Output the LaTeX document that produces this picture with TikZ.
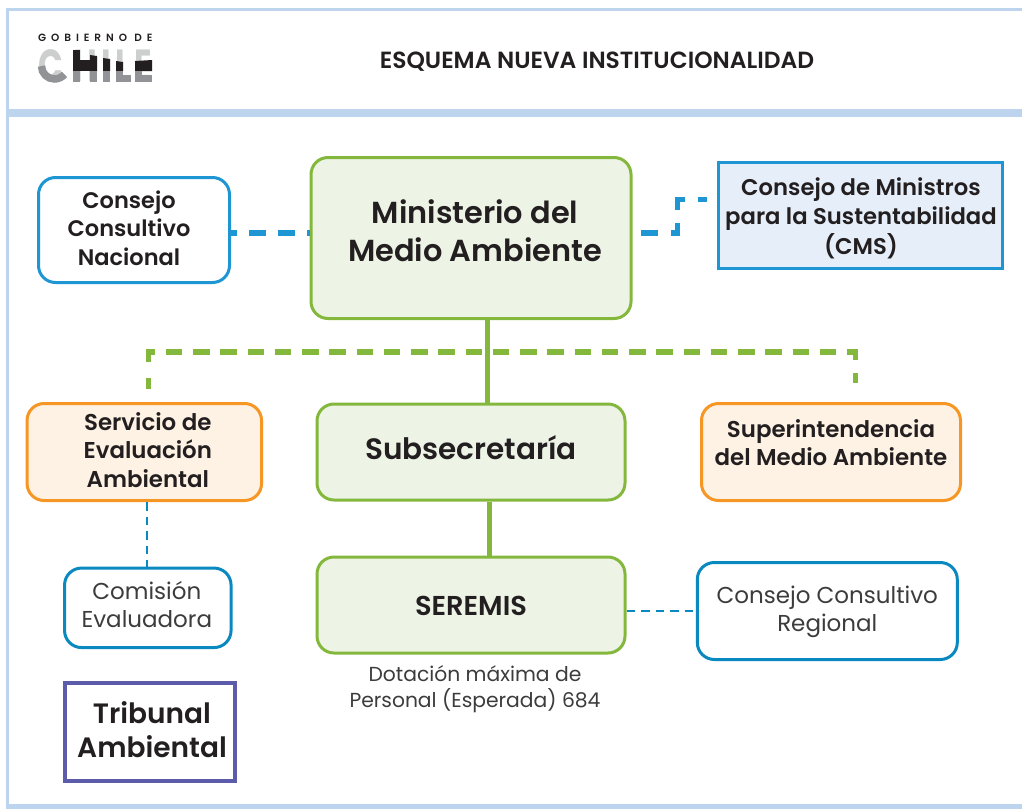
\documentclass[tikz,border=0pt]{standalone}
\usepackage{fontspec}
\setmainfont{Poppins}
\newfontfamily\sbfont{Poppins SemiBold}
\definecolor{framec}{RGB}{189,212,238}
\definecolor{greenb}{RGB}{132,184,60}
\definecolor{greenf}{RGB}{237,244,230}
\definecolor{blueb}{RGB}{10,136,192}
\definecolor{dashb}{RGB}{30,150,212}
\definecolor{bluef}{RGB}{230,239,249}
\definecolor{orangeb}{RGB}{246,150,36}
\definecolor{orangef}{RGB}{254,242,228}
\definecolor{purpleb}{RGB}{92,92,170}
\definecolor{inkc}{RGB}{35,31,32}
\definecolor{greyc}{RGB}{60,60,60}
\definecolor{logol}{RGB}{205,207,207}
\definecolor{logom}{RGB}{145,147,150}
% text block moved up by #1 without changing the size of the node
\newcommand{\mvtext}[2]{\raisebox{#1}[\height][\depth]{\begin{tabular}{@{}c@{}}#2\end{tabular}}}
\tikzset{
 x=1pt,y=-1pt,
 boxbase/.style={draw,inner sep=0pt,text=inkc,line width=3pt,anchor=center},
 greenbox/.style={boxbase,draw=greenb,fill=greenf,rounded corners=17pt},
 bluebox/.style={boxbase,draw=blueb,fill=white,rounded corners=17pt},
 orangebox/.style={boxbase,draw=orangeb,fill=orangef,rounded corners=17pt},
 thickdash/.style={draw=dashb,line width=5.5pt,dash pattern=on 17pt off 13pt},
 thindash/.style={draw=blueb,line width=2.4pt,dash pattern=on 8.5pt off 6pt},
 greendash/.style={draw=greenb,line width=5.2pt,dash pattern=on 16.7pt off 10.55pt},
 greenstub/.style={draw=greenb,line width=5.2pt},
 greenline/.style={draw=greenb,line width=5pt},
 sb/.style 2 args={font=\fontsize{#1}{#2}\selectfont\sbfont},
 rg/.style 2 args={font=\fontsize{#1}{#2}\selectfont},
}
\begin{document}
\begin{tikzpicture}
\useasboundingbox (0,0) rectangle (1022,809);
\fill[white] (0,0) rectangle (1022,809);
% frame
\fill[framec] (6,8) rectangle (1022,11);
\fill[framec] (6,8) rectangle (9,809);
\fill[framec] (6,109) rectangle (1022,117);
\fill[framec] (6,804) rectangle (1022,809);
% logo
\node[font=\fontsize{10.5}{12}\selectfont\sbfont\addfontfeature{LetterSpace=47},text=inkc,anchor=west,inner sep=0pt] (gob) at (38,38) {GOBIERNO DE};
\node[font=\fontsize{45}{45}\selectfont\bfseries,text=logol,anchor=west,inner sep=0pt,xscale=.72,transform shape] (chile) at (34,66) {\makebox[47.2pt][c]{C}\makebox[47.2pt][c]{H}\makebox[12.5pt][c]{I}\makebox[33.3pt][c]{L}\makebox[23.6pt][c]{E}};
% logo colour bands, over the letters' strokes
\draw[logom,line width=7.5pt] (41.5,66) arc[start angle=180,end angle=40,radius=13];
\fill[inkc] (73,50) rectangle (80,71);
\fill[inkc] (80,60) rectangle (90,71);
\fill[inkc] (90,55) -- (97,56) -- (97,71) -- (90,71) -- cycle;
\fill[inkc] (103,58) -- (110,59) -- (110,71) -- (103,71) -- cycle;
\fill[inkc] (116,61) -- (123,62) -- (123,71) -- (116,71) -- cycle;
\fill[inkc] (135,61) -- (152,60) -- (152,71) -- (135,71) -- cycle;
\fill[logom] (73,71) rectangle (80,82);
\fill[logom] (90,71) rectangle (97,82);
\fill[logom] (103,71) rectangle (110,82);
\fill[logom] (116,71) rectangle (123,82);
\fill[logom] (123,75) rectangle (131,82);
\fill[logom] (135,71) rectangle (142,82);
\fill[logom] (142,75) rectangle (152,82);
\node[sb={23.4}{28},text=inkc] (title) at (597,62) {ESQUEMA NUEVA INSTITUCIONALIDAD};
% boxes
\node[greenbox,sb={30.4}{38},minimum width=320pt,minimum height=161pt] (min) at (471,238) {\hspace*{8pt}\mvtext{3pt}{Ministerio del\\Medio Ambiente}};
\node[greenbox,sb={29.5}{34},minimum width=308pt,minimum height=96pt] (sub) at (471,452) {\mvtext{-1pt}{Subsecretaría}};
\node[greenbox,sb={27.3}{30},minimum width=308pt,minimum height=96pt] (ser) at (471,605) {\mvtext{-4pt}{SEREMIS}};
\node[bluebox,draw=dashb,sb={22.5}{28.5},minimum width=191pt,minimum height=105pt] (ccn) at (134,230) {\hspace*{-10pt}\mvtext{-1pt}{Consejo\\Consultivo\\Nacional}};
\node[boxbase,sharp corners,draw=dashb,fill=bluef,line width=3pt,sb={22.7}{29},minimum width=284pt,minimum height=106pt] (cms) at (860,215) {\hspace*{2pt}\mvtext{-4pt}{Consejo de Ministros\\para la Sustentabilidad\\(CMS)}};
\node[orangebox,sb={22.9}{28.5},minimum width=234.5pt,minimum height=97pt] (sea) at (144.3,452) {\hspace*{7pt}\mvtext{-1pt}{Servicio de\\Evaluación\\Ambiental}};
\node[orangebox,sb={22.9}{28.5},minimum width=259pt,minimum height=97pt] (sma) at (831,452) {\mvtext{6pt}{Superintendencia\\del Medio Ambiente}};
\node[bluebox,rg={23}{28.5},text=greyc,minimum width=166.5pt,minimum height=79.5pt] (com) at (147.8,607.8) {\hspace*{-2pt}\mvtext{0pt}{Comisión\\Evaluadora}};
\node[bluebox,rg={23}{28.5},text=greyc,minimum width=260pt,minimum height=97pt] (ccr) at (827.3,611) {\mvtext{-1pt}{Consejo Consultivo\\Regional}};
\node[boxbase,sharp corners,draw=purpleb,fill=white,line width=3.5pt,sb={28}{34},minimum width=170pt,minimum height=98pt] (tri) at (150,732) {\hspace*{4pt}\mvtext{-2pt}{Tribunal\\Ambiental}};
\node[rg={20.3}{26},text=greyc,align=center,inner sep=0pt] (dot) at (475,689) {Dotación máxima de\\Personal (Esperada) 684};
% connectors
\coordinate (ml) at (310,233);
\draw[thickdash,dash pattern=on 17pt off 12pt,dash phase=11pt] (ccn.east |- ml) -- (ml);
\coordinate (mr) at (641,233);
\coordinate (c1) at (677.5,233);
\coordinate (c2) at (677.5,199.5);
\coordinate (c3) at (707,199.5);
\draw[thickdash] (mr) -- (c1) -- (c2) -- (c3);
\draw[greenline] (min.south -| 487.3,0) -- (sub.north -| 487.3,0);
\draw[greenline] (sub.south -| 489.5,0) -- (ser.north -| 489.5,0);
\coordinate (gs) at (148.5,362);
\coordinate (gl) at (148.5,352);
\coordinate (gr) at (855.5,352);
\coordinate (ge) at (855.5,361);
\draw[greendash] (gs) -- (gl) -- (gr) -- (ge);
\coordinate (s1a) at (148.5,378);
\coordinate (s1b) at (148.5,389);
\coordinate (s2a) at (855.5,373);
\coordinate (s2b) at (855.5,383);
\draw[greenstub] (s1a) -- (s1b);
\draw[greenstub] (s2a) -- (s2b);
\draw[thindash] (sea.south -| 146.7,0) -- (com.north -| 146.7,0);
\draw[thindash] (ser.east |- ccr.west) -- (ccr.west);
\end{tikzpicture}
\end{document}
